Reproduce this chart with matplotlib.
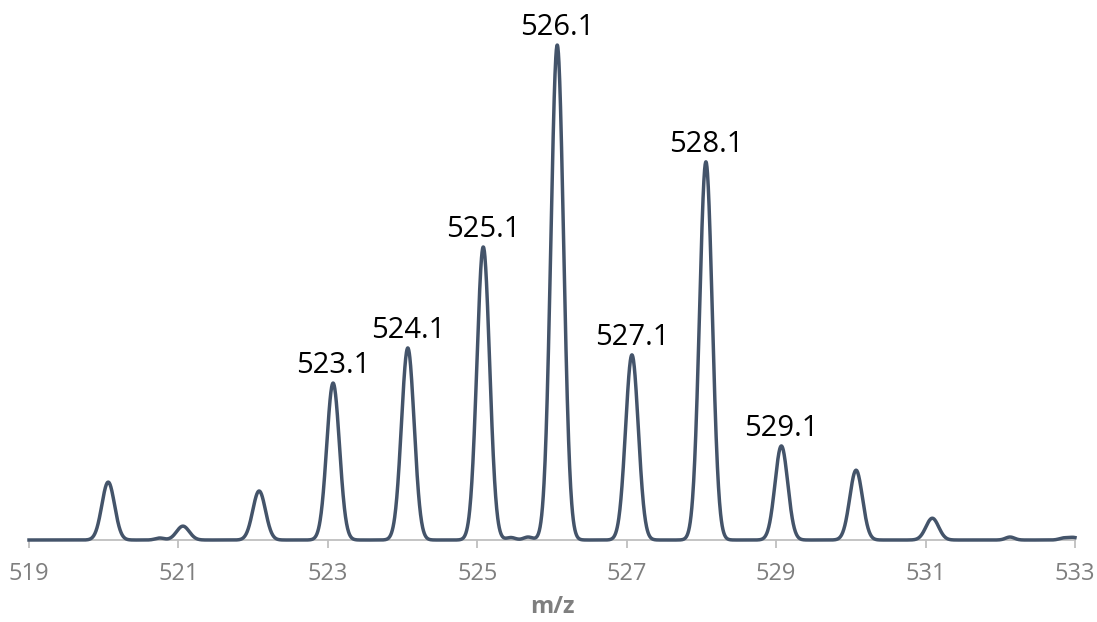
import numpy as np
import matplotlib.pyplot as plt

# centroid m/z and relative intensity of each isotope peak
peak_mz = [520.06, 521.06, 522.08, 523.07, 524.07, 525.08, 526.07, 527.07,
           528.06, 529.07, 530.07, 531.09, 532.13]
peak_int = [11.7, 2.8, 9.9, 31.7, 38.8, 59.2, 100.0, 37.4,
            76.4, 19.0, 14.1, 4.4, 0.6]
# minor baseline features
minor_mz = [520.75, 525.45, 525.68, 532.85, 532.98]
minor_int = [0.4, 0.5, 0.6, 0.4, 0.5]

labels = ['523.1', '524.1', '525.1', '526.1', '527.1', '528.1', '529.1']
label_idx = [3, 4, 5, 6, 7, 8, 9]

xticks = [519, 521, 523, 525, 527, 529, 531, 533]

line_col = '#44546A'
axis_col = '#BFBFBF'
text_col = '#7F7F7F'

plt.rcParams['font.family'] = ['Open Sans', 'DejaVu Sans']

# profile spectrum built from the peak list
mz = np.linspace(519, 533, 4000)
sigma = 0.085
profile = np.zeros_like(mz)
for c, h in zip(peak_mz + minor_mz, peak_int + minor_int):
    s = sigma if h > 1 else 0.06
    profile += h * np.exp(-0.5 * ((mz - c) / s) ** 2)

fig = plt.figure(figsize=(10.97, 6.22), dpi=100)
ax = fig.add_axes([29 / 1097, 82 / 622, (1075 - 29) / 1097, (540 - 45) / 622])
ax.plot(mz, profile, color=line_col, lw=2.5, clip_on=False,
        solid_joinstyle='round', zorder=3)

for i, lab in zip(label_idx, labels):
    ax.annotate(lab, (peak_mz[i], peak_int[i]), xytext=(0, 2),
                textcoords='offset points', ha='center', va='bottom',
                fontsize=21, color='black')

ax.set_xlim(519, 533)
ax.set_ylim(0, 100)
ax.set_xticks(xticks)
ax.set_xticklabels([str(t) for t in xticks])
ax.set_yticks([])
for side in ['left', 'right', 'top']:
    ax.spines[side].set_visible(False)
ax.spines['bottom'].set_color(axis_col)
ax.spines['bottom'].set_linewidth(1.3)
ax.tick_params(axis='x', colors=axis_col, length=6, width=1.3,
               labelcolor=text_col, labelsize=17, pad=10)
ax.set_xlabel('m/z', color=text_col, fontsize=17, fontweight='bold',
              labelpad=6)

fig.savefig('out.png', dpi=100)
